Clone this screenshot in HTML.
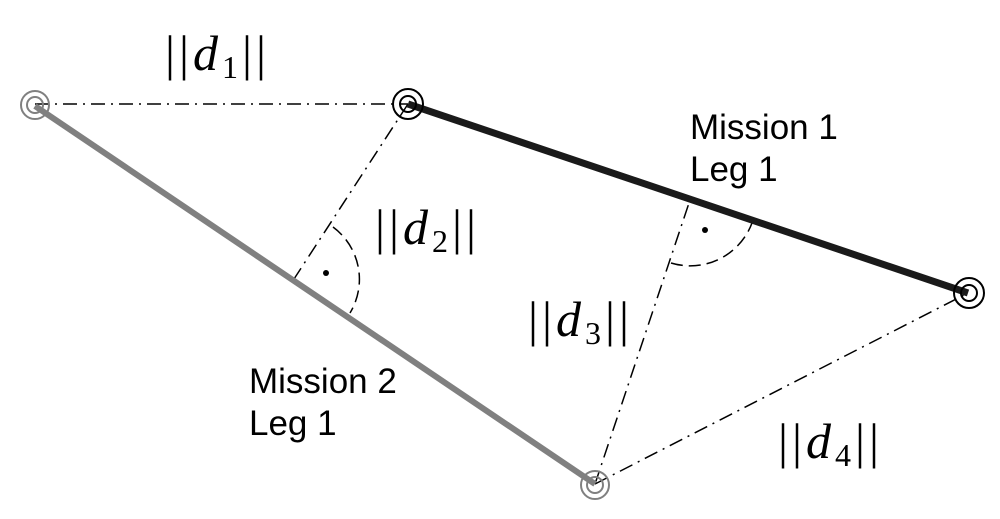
<!DOCTYPE html>
<html><head><style>
html,body{margin:0;padding:0;background:#fff;}
svg{display:block;}
.m{font-family:"Liberation Serif",serif;font-size:50px;letter-spacing:4px;}
.s{font-family:"Liberation Sans",sans-serif;font-size:35px;}
</style></head><body>
<svg width="1000" height="519" viewBox="0 0 1000 519" xmlns="http://www.w3.org/2000/svg">
<g stroke="#000" stroke-width="1.5" fill="none" stroke-dasharray="14,6,2,6">
<line x1="35" y1="104" x2="408" y2="104"/>
<line x1="408" y1="104" x2="294" y2="279"/>
<line x1="595" y1="484" x2="690" y2="200"/>
<line x1="595" y1="484" x2="968" y2="293"/>
</g>
<g stroke="#000" stroke-width="1.5" fill="none" stroke-dasharray="12,6">
<path d="M333,227 A65,65 0 0 1 350,313"/>
<path d="M671,263 A66,66 0 0 0 752,223"/>
</g>
<line x1="35" y1="106" x2="595" y2="484" stroke="#808080" stroke-width="6"/>
<line x1="408" y1="104" x2="968" y2="293" stroke="#1a1a1a" stroke-width="7"/>
<circle cx="326" cy="273" r="3" fill="#000"/>
<circle cx="705" cy="230" r="3" fill="#000"/>
<g fill="none">
<circle cx="35" cy="105" r="14" stroke="#808080" stroke-width="2"/>
<circle cx="35" cy="105" r="8" stroke="#808080" stroke-width="2"/>
<circle cx="595" cy="485" r="14" stroke="#808080" stroke-width="2"/>
<circle cx="595" cy="485" r="8" stroke="#808080" stroke-width="2"/>
<circle cx="408" cy="104" r="15" stroke="#000" stroke-width="2"/>
<circle cx="408" cy="104" r="8" stroke="#000" stroke-width="2"/>
<circle cx="969" cy="293" r="15" stroke="#000" stroke-width="2"/>
<circle cx="969" cy="293" r="8" stroke="#000" stroke-width="2"/>
</g>
<text class="m" x="165" y="70">||<tspan font-style="italic">d</tspan><tspan font-size="32" dy="8">1</tspan><tspan dy="-8">||</tspan></text>
<text class="m" x="375" y="244">||<tspan font-style="italic">d</tspan><tspan font-size="32" dy="8">2</tspan><tspan dy="-8">||</tspan></text>
<text class="m" x="528" y="336">||<tspan font-style="italic">d</tspan><tspan font-size="32" dy="8">3</tspan><tspan dy="-8">||</tspan></text>
<text class="m" x="778" y="458">||<tspan font-style="italic">d</tspan><tspan font-size="32" dy="8">4</tspan><tspan dy="-8">||</tspan></text>
<text class="s" x="690" y="139">Mission 1</text>
<text class="s" x="690" y="181">Leg 1</text>
<text class="s" x="249" y="393">Mission 2</text>
<text class="s" x="249" y="435">Leg 1</text>
</svg>
</body></html>
